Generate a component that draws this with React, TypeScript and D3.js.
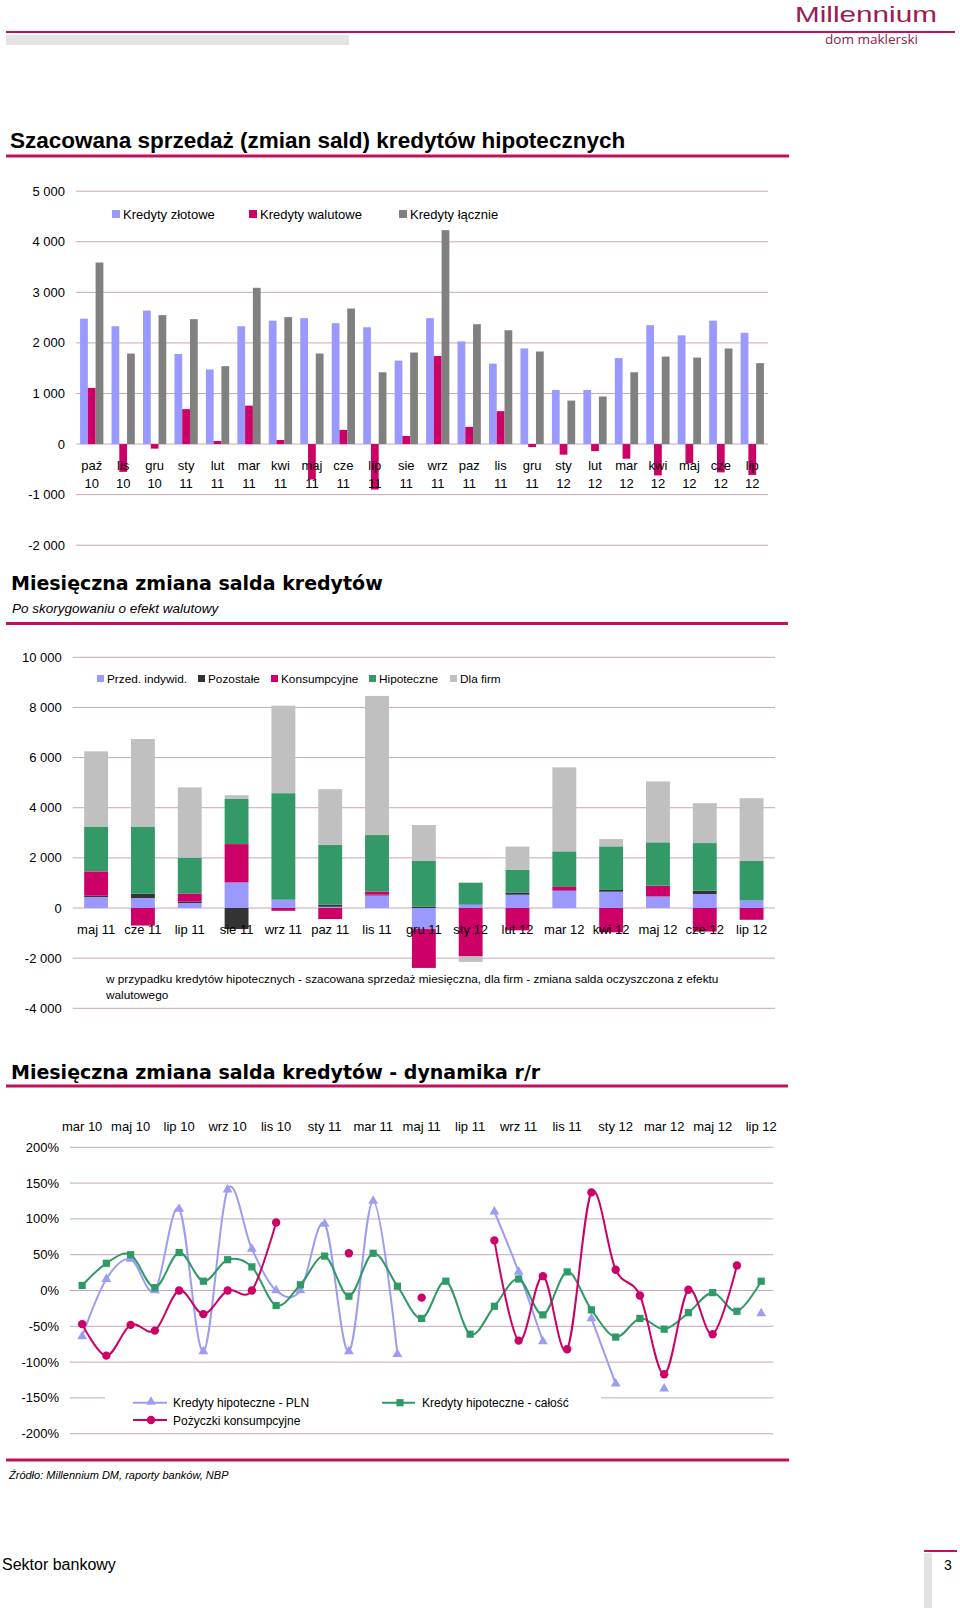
import React from "react";
import * as d3 from "d3";

// ---------- Chart 1 data ----------
const cats1 = ["paź 10","lis 10","gru 10","sty 11","lut 11","mar 11","kwi 11","maj 11","cze 11","lip 11","sie 11","wrz 11","paz 11","lis 11","gru 11","sty 12","lut 12","mar 12","kwi 12","maj 12","cze 12","lip 12"];
const zlotowe = [2480, 2330, 2640, 1780, 1475, 2330, 2440, 2490, 2390, 2310, 1650, 2490, 2030, 1590, 1890, 1070, 1070, 1700, 2350, 2150, 2440, 2200];
const walutowe = [1110, -550, -90, 690, 60, 760, 80, -700, 280, -900, 160, 1740, 340, 650, -60, -210, -140, -290, -620, -380, -560, -610];
const laczne = [3590, 1790, 2550, 2470, 1540, 3090, 2510, 1790, 2680, 1420, 1810, 4230, 2370, 2250, 1830, 860, 940, 1420, 1730, 1710, 1890, 1600];
const ticks1 = [-2000, -1000, 0, 1000, 2000, 3000, 4000, 5000];
const legend1 = ["Kredyty złotowe", "Kredyty walutowe", "Kredyty łącznie"];

// ---------- Chart 2 data ----------
const cats2 = ["maj 11","cze 11","lip 11","sie 11","wrz 11","paz 11","lis 11","gru 11","sty 12","lut 12","mar 12","kwi 12","maj 12","cze 12","lip 12"];
const przed = [440, 400, 200, 1020, 330, 50, 500, -840, 130, 530, 690, 650, 460, 560, 300];
const pozostale = [50, 170, 60, -840, 0, 80, 30, 50, 0, 90, 0, 70, 0, 130, 0];
const konsumpcyjne = [970, -700, 320, 1530, -110, -440, 130, -1550, -1930, -890, 150, -970, 430, -940, -470];
const hipoteczne = [1790, 2680, 1430, 1800, 4250, 2390, 2250, 1840, 880, 900, 1420, 1740, 1730, 1900, 1580];
const dlaFirm = [3000, 3490, 2800, 150, 3490, 2220, 5550, 1420, -220, 930, 3350, 290, 2430, 1590, 2500];
const ticks2 = [-4000, -2000, 0, 2000, 4000, 6000, 8000, 10000];
const legend2 = ["Przed. indywid.", "Pozostałe", "Konsumpcyjne", "Hipoteczne", "Dla firm"];

// ---------- Chart 3 data ----------
const months3 = ["mar 10","kwi 10","maj 10","cze 10","lip 10","sie 10","wrz 10","paź 10","lis 10","gru 10","sty 11","lut 11","mar 11","kwi 11","maj 11","cze 11","lip 11","sie 11","wrz 11","paź 11","lis 11","gru 11","sty 12","lut 12","mar 12","kwi 12","maj 12","cze 12","lip 12"];
const hipoPLN = [-64, 16, 44, 0, 114, -85, 141, 58, 0, 0, 93, -85, 125, -89, null, null, null, 110, 26, -71, null, -39, -130, null, -137, null, null, null, -32];
const hipoCalosc = [7, 38, 50, 4, 53, 13, 43, 33, -21, 8, 48, -8, 52, 6, -39, 13, -61, -22, 16, -34, 26, -27, -65, -39, -54, -31, -3, -29, 13];
const pozyczki = [-47, -91, -48, -56, 0, -33, 0, 0, 95, null, null, 52, null, null, -10, null, null, 70, -70, 20, -82, 137, 29, -7, -117, 1, -61, 35, null];
const ticks3 = [-200, -150, -100, -50, 0, 50, 100, 150, 200];

// ---------- styles ----------
const FONT = "'Liberation Sans', Arial, sans-serif";
const MAGENTA = "#c4105c";
const GRID = "#c6a6ba";
const BLUE = "#9999ff";
const PINK = "#cc0066";
const GRAY = "#808080";
const DARK = "#333333";
const GREEN = "#339966";
const LGRAY = "#c0c0c0";

const fmt = (v: number) => (v < 0 ? "-" : "") + d3.format(",")(Math.abs(v)).replace(/,/g, " ");

function Chart1() {
  const x = d3.scaleBand<string>().domain(cats1).range([76, 768]);
  const y = d3.scaleLinear().domain([-2000, 5000]).range([545.2, 191.2]);
  const gw = x.bandwidth() * 0.74;
  const inner = d3.scaleBand<string>().domain(["z", "w", "l"]).range([0, gw]);
  const series = [
    { key: "z", vals: zlotowe, color: BLUE },
    { key: "w", vals: walutowe, color: PINK },
    { key: "l", vals: laczne, color: GRAY },
  ];
  const legendX = [112, 249, 399];
  const legendColors = [BLUE, PINK, GRAY];
  return (
    <g>
      {ticks1.map((t) => (
        <g key={t}>
          <line x1={76} x2={768} y1={y(t)} y2={y(t)} stroke={GRID} strokeWidth={1} />
          <text x={65} y={y(t) + 4.5} textAnchor="end" fontSize={13} fontFamily={FONT}>{fmt(t)}</text>
        </g>
      ))}
      {legend1.map((l, i) => (
        <g key={l}>
          <rect x={legendX[i]} y={210} width={8} height={8} fill={legendColors[i]} />
          <text x={legendX[i] + 11} y={219} fontSize={13} fontFamily={FONT}>{l}</text>
        </g>
      ))}
      {series.map((s) =>
        s.vals.map((v, i) => {
          const cx = (x(cats1[i]) as number) + x.bandwidth() / 2 - gw / 2 + (inner(s.key) as number);
          return (
            <rect key={s.key + i} x={cx} width={inner.bandwidth()} y={Math.min(y(v), y(0))} height={Math.abs(y(v) - y(0))} fill={s.color} />
          );
        })
      )}
      {cats1.map((c) => {
        const [m, yr] = c.split(" ");
        const cx = (x(c) as number) + x.bandwidth() / 2;
        return (
          <g key={c + cx}>
            <text x={cx} y={470} textAnchor="middle" fontSize={13} fontFamily={FONT}>{m}</text>
            <text x={cx} y={487.5} textAnchor="middle" fontSize={13} fontFamily={FONT}>{yr}</text>
          </g>
        );
      })}
    </g>
  );
}

function Chart2() {
  const x = d3.scaleBand<string>().domain(cats2).range([72.7, 775]);
  const y = d3.scaleLinear().domain([-4000, 10000]).range([1008.3, 657.3]);
  const bw = x.bandwidth() * 0.51;
  const keys = ["p", "o", "k", "h", "f"];
  const colors = [BLUE, DARK, PINK, GREEN, LGRAY];
  const table = cats2.map((c, i) => ({ c, p: przed[i], o: pozostale[i], k: konsumpcyjne[i], h: hipoteczne[i], f: dlaFirm[i] }));
  const stacked = d3.stack<any>().keys(keys).offset(d3.stackOffsetDiverging)(table);
  const legendX = [97, 198, 271, 369, 450];
  return (
    <g>
      {ticks2.map((t) => (
        <g key={t}>
          <line x1={72.7} x2={775} y1={y(t)} y2={y(t)} stroke={GRID} strokeWidth={1} />
          <text x={61.7} y={y(t) + 4.5} textAnchor="end" fontSize={13} fontFamily={FONT}>{fmt(t)}</text>
        </g>
      ))}
      {legend2.map((l, i) => (
        <g key={l}>
          <rect x={legendX[i]} y={675} width={7} height={7} fill={colors[i]} />
          <text x={legendX[i] + 10} y={683} fontSize={11.8} fontFamily={FONT}>{l}</text>
        </g>
      ))}
      {stacked.map((s, si) =>
        s.map((d, i) => {
          const cx = (x(cats2[i]) as number) + x.bandwidth() / 2 - bw / 2;
          const y0 = y(d[0]);
          const y1 = y(d[1]);
          return <rect key={si + "-" + i} x={cx} width={bw} y={Math.min(y0, y1)} height={Math.abs(y1 - y0)} fill={colors[si]} />;
        })
      )}
      {cats2.map((c) => (
        <text key={c} x={(x(c) as number) + x.bandwidth() / 2} y={933.5} textAnchor="middle" fontSize={13} fontFamily={FONT}>{c}</text>
      ))}
      <text x={106} y={983} fontSize={11.8} fontFamily={FONT}>w przypadku kredytów hipotecznych - szacowana sprzedaż miesięczna, dla firm - zmiana salda oczyszczona z efektu</text>
      <text x={106} y={999} fontSize={11.8} fontFamily={FONT}>walutowego</text>
    </g>
  );
}

function Chart3() {
  const x = d3.scalePoint<string>().domain(months3).range([70, 773.3]).padding(0.5);
  const y = d3.scaleLinear().domain([-200, 200]).range([1433.7, 1147.3]);
  const mk = (vals: (number | null)[]) =>
    d3.line<number | null>()
      .defined((d) => d !== null)
      .x((_, i) => x(months3[i]) as number)
      .y((d) => y(d as number))
      .curve(d3.curveCardinal.tension(0))(vals) || "";
  const tri = d3.symbol(d3.symbolTriangle, 42)() || "";
  const sq = d3.symbol(d3.symbolSquare, 52)() || "";
  const circ = d3.symbol(d3.symbolCircle, 55)() || "";
  const series = [
    { vals: hipoPLN, color: "#9c9cf4", sym: tri, lw: 2 },
    { vals: hipoCalosc, color: "#2e9a66", sym: sq, lw: 2 },
    { vals: pozyczki, color: PINK, sym: circ, lw: 2 },
  ];
  return (
    <g>
      {ticks3.map((t) => (
        <g key={t}>
          <line x1={70} x2={773.3} y1={y(t)} y2={y(t)} stroke={GRID} strokeWidth={1} />
          <text x={59} y={y(t) + 4.5} textAnchor="end" fontSize={13} fontFamily={FONT}>{t + "%"}</text>
        </g>
      ))}
      {months3.map((m, i) =>
        i % 2 === 0 ? (
          <text key={m} x={x(m) as number} y={1131} textAnchor="middle" fontSize={13} fontFamily={FONT}>{m}</text>
        ) : null
      )}
      <rect x={105} y={1388} width={496} height={42} fill="#ffffff" />
      {series.map((s, si) => (
        <g key={si}>
          <path d={mk(s.vals)} fill="none" stroke={s.color} strokeWidth={s.lw} />
          {s.vals.map((v, i) =>
            v === null ? null : (
              <path key={i} d={s.sym} transform={`translate(${x(months3[i])},${y(v)})`} fill={s.color} />
            )
          )}
        </g>
      ))}
      {/* legend */}
      <line x1={133} x2={167} y1={1402.7} y2={1402.7} stroke="#9c9cf4" strokeWidth={2} />
      <path d={tri} transform="translate(151,1402)" fill="#9c9cf4" />
      <text x={173} y={1407} fontSize={12} fontFamily={FONT}>Kredyty hipoteczne - PLN</text>
      <line x1={382} x2={415} y1={1402.7} y2={1402.7} stroke="#2e9a66" strokeWidth={2} />
      <path d={sq} transform="translate(400,1402.7)" fill="#2e9a66" />
      <text x={422} y={1407} fontSize={12} fontFamily={FONT}>Kredyty hipoteczne - całość</text>
      <line x1={133} x2={167} y1={1420} y2={1420} stroke={PINK} strokeWidth={2} />
      <path d={circ} transform="translate(151,1420)" fill={PINK} />
      <text x={173} y={1424.5} fontSize={12} fontFamily={FONT}>Pożyczki konsumpcyjne</text>
    </g>
  );
}

export default function App() {
  return (
    <svg width={960} height={1611} style={{ position: "absolute", left: 0, top: 0, background: "#ffffff" }}>
      <rect x={0} y={0} width={960} height={1611} fill="#ffffff" />
      {/* header */}
      <text x={795} y={22} fontSize={22.5} fontFamily={FONT} fill="#9e1a52" textLength={142} lengthAdjust="spacingAndGlyphs">Millennium</text>
      <line x1={6} x2={955} y1={32} y2={32} stroke={MAGENTA} strokeWidth={2} />
      <rect x={6} y={35} width={343} height={10} fill="#e4e4e4" />
      <text x={825} y={44} fontSize={12} fontFamily="'Open Sans', sans-serif" fill="#8a1a48" textLength={93} lengthAdjust="spacingAndGlyphs">dom maklerski</text>

      {/* section 1 */}
      <text x={10} y={148} fontSize={22.5} fontWeight="bold" fontFamily={FONT}>Szacowana sprzedaż (zmian sald) kredytów hipotecznych</text>
      <line x1={6} x2={789} y1={156} y2={156} stroke={MAGENTA} strokeWidth={3} />
      <Chart1 />

      {/* section 2 */}
      <text x={11} y={590} fontSize={19} fontWeight="bold" fontFamily="'DejaVu Sans', sans-serif">Miesięczna zmiana salda kredytów</text>
      <text x={12} y={613} fontSize={13.5} fontStyle="italic" fontFamily={FONT}>Po skorygowaniu o efekt walutowy</text>
      <line x1={6} x2={788} y1={623.5} y2={623.5} stroke={MAGENTA} strokeWidth={3} />
      <Chart2 />

      {/* section 3 */}
      <text x={11} y={1078.5} fontSize={19} fontWeight="bold" fontFamily="'DejaVu Sans', sans-serif">Miesięczna zmiana salda kredytów - dynamika r/r</text>
      <line x1={6} x2={788} y1={1086} y2={1086} stroke={MAGENTA} strokeWidth={3} />
      <Chart3 />

      {/* source */}
      <line x1={6} x2={789} y1={1460} y2={1460} stroke={MAGENTA} strokeWidth={3} />
      <text x={9} y={1479} fontSize={11} fontStyle="italic" fontFamily={FONT}>Źródło: Millennium DM, raporty banków, NBP</text>

      {/* footer */}
      <text x={2} y={1570} fontSize={16} fontFamily={FONT}>Sektor bankowy</text>
      <line x1={924} x2={957} y1={1551} y2={1551} stroke={MAGENTA} strokeWidth={2} />
      <rect x={924} y={1553} width={8} height={55} fill="#e2e2e2" />
      <text x={944} y={1570} fontSize={14} fontFamily={FONT}>3</text>
    </svg>
  );
}
